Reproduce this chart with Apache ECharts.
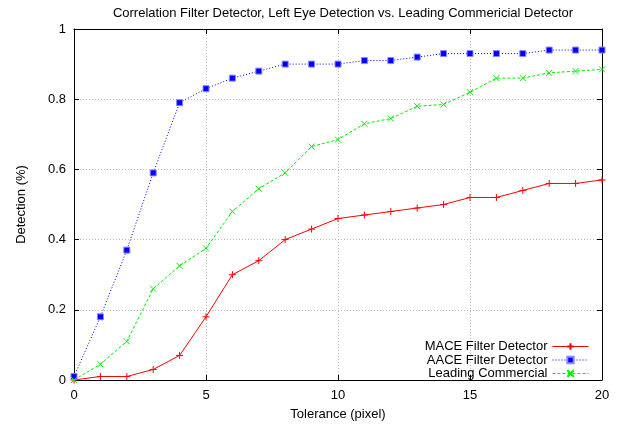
<!DOCTYPE html>
<html><head><meta charset="utf-8">
<script src="https://cdn.jsdelivr.net/npm/echarts@6/dist/echarts.min.js"></script>
<style>html,body{margin:0;padding:0;background:#fff}#c{width:623px;height:426px}</style>
</head><body><div id="c"></div>
<script>
const tolerance = [0,1,2,3,4,5,6,7,8,9,10,11,12,13,14,15,16,17,18,19,20];
const mace = [0,0.01,0.01,0.03,0.07,0.18,0.30,0.34,0.40,0.43,0.46,0.47,0.48,0.49,0.50,0.52,0.52,0.54,0.56,0.56,0.57];
const aace = [0.01,0.18,0.37,0.59,0.79,0.83,0.86,0.88,0.90,0.90,0.90,0.91,0.91,0.92,0.93,0.93,0.93,0.93,0.94,0.94,0.94];
const leading = [0,0.045,0.11,0.26,0.325,0.375,0.48,0.545,0.59,0.665,0.685,0.73,0.745,0.78,0.785,0.82,0.86,0.86,0.875,0.88,0.885];
const seriesNames = ['MACE Filter Detector','AACE Filter Detector','Leading Commercial'];

const F = 'Liberation Sans, Arial, sans-serif';
const FS = 13;
const pairs = arr => tolerance.map((x,i)=>[x,arr[i]]);
const plus = 'path://M0,5L10,5M5,0L5,10';
const cross = 'path://M0,0L10,10M10,0L0,10';

const chart = echarts.init(document.getElementById('c'));
const axisCommon = {
  axisLine:{show:true,onZero:false,lineStyle:{color:'#000',width:1}},
  axisTick:{show:true,inside:true,length:5,lineStyle:{color:'#000'}},
  axisLabel:{color:'#000',fontFamily:F,fontSize:FS,margin:8},
};
chart.setOption({
  animation:false,
  title:{text:'Correlation Filter Detector, Left Eye Detection vs. Leading Commericial Detector',
    left:338,textAlign:'center',top:2,textStyle:{fontFamily:F,fontSize:FS,fontWeight:'normal',color:'#000'}},
  grid:{left:74,right:21,top:29,bottom:44},
  legend:[0,1,2].map(i=>({data:[seriesNames[i]],right:29,top:335+i*13.5,orient:'vertical',align:'right',
    itemWidth:36,itemHeight:8,itemGap:2,lineStyle:{width:1},
    textStyle:{fontFamily:F,fontSize:FS,color:'#000'}})),
  xAxis:[
    Object.assign({type:'value',min:0,max:20,interval:5,name:'Tolerance (pixel)',nameLocation:'middle',nameGap:28,
      nameTextStyle:{fontFamily:F,fontSize:FS,color:'#000'},
      splitLine:{show:true,lineStyle:{color:'#bbb',type:[1,2]}}},axisCommon,
      {axisLabel:{color:'#000',fontFamily:F,fontSize:FS,margin:9}}),
    Object.assign({type:'value',min:0,max:20,interval:5,position:'top',splitLine:{show:false}},axisCommon,{axisLabel:{show:false}})
  ],
  yAxis:[
    Object.assign({type:'value',min:0,max:1,interval:0.2,name:'Detection (%)',nameLocation:'middle',nameGap:46,
      nameTextStyle:{fontFamily:F,fontSize:FS,color:'#000'},
      splitLine:{show:true,lineStyle:{color:'#bbb',type:[1,2]}}},axisCommon),
    Object.assign({type:'value',min:0,max:1,interval:0.2,position:'right',splitLine:{show:false}},axisCommon,{axisLabel:{show:false}})
  ],
  series:[
    {name:seriesNames[0],type:'line',data:pairs(mace),symbol:plus,symbolSize:7,
      lineStyle:{color:'#ff0000',width:1},itemStyle:{color:'#ff0000',borderColor:'#ff0000',borderWidth:1}},
    {name:seriesNames[1],type:'line',data:pairs(aace),symbol:'rect',symbolSize:6,
      lineStyle:{color:'#0000ff',width:1,type:[1,2]},itemStyle:{color:'#0000ff',borderColor:'#8888ff',borderWidth:1}},
    {name:seriesNames[2],type:'line',data:pairs(leading),symbol:cross,symbolSize:6,
      lineStyle:{color:'#00ee00',width:1,type:[3,2]},itemStyle:{color:'#00ee00',borderColor:'#00ee00',borderWidth:1}}
  ]
});
</script></body></html>
